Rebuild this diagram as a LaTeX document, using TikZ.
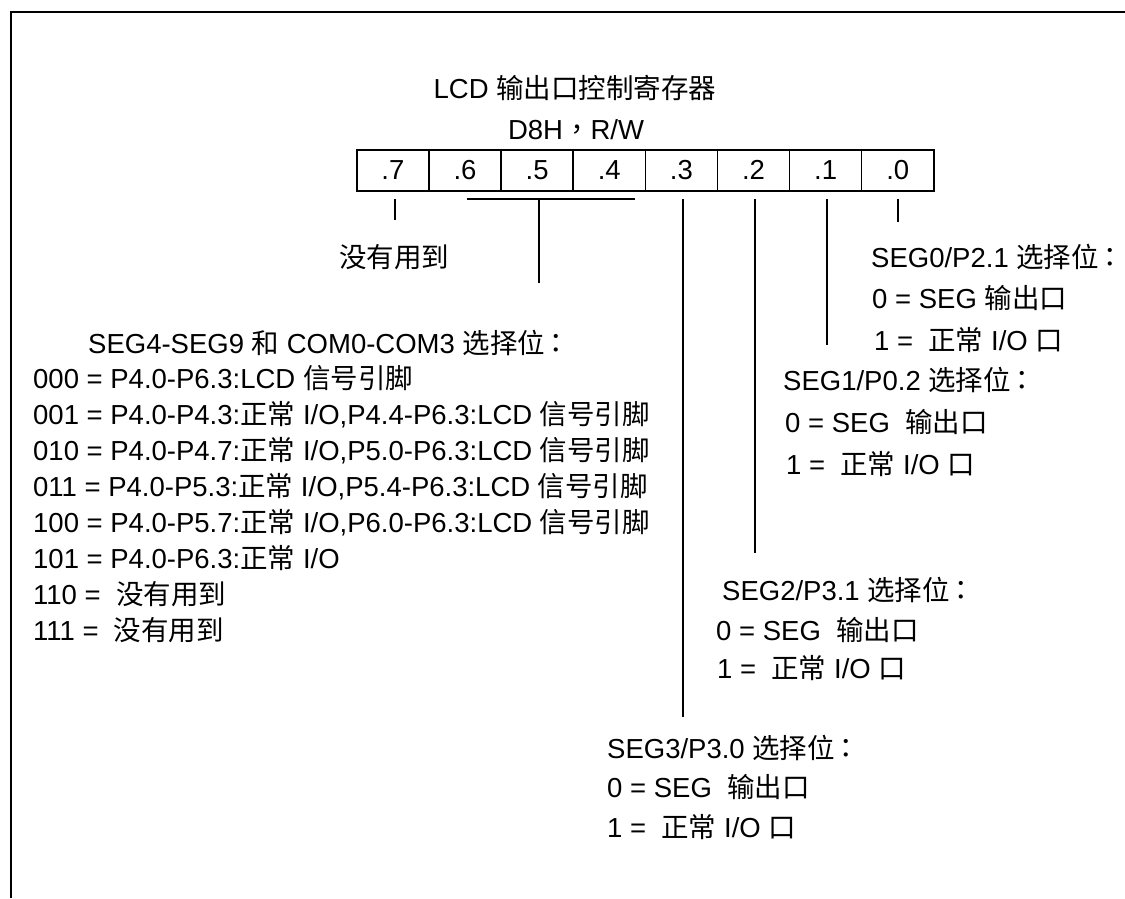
\documentclass[tikz,border=0pt]{standalone}
\usepackage{fontspec}
\setmainfont{Liberation Sans}
\newfontfamily\cjk{Noto Sans CJK SC}
\newfontfamily\cjkp{Noto Sans CJK TC}
\newcommand{\zh}[1]{{\cjk #1}}
\newcommand{\zcolon}{{\cjkp\hspace{-0.1em}\makebox[0.55em][l]{：}}}
\newcommand{\zcomma}{{\cjkp ，}}
\begin{document}
\begin{tikzpicture}[x=1pt,y=-1pt,
  every node/.style={inner sep=0pt,font=\fontsize{27.5}{33}\selectfont},
  cellbox/.style={draw,line width=1.6pt,minimum width=72.125pt,minimum height=41pt,anchor=north west},
  txt/.style={anchor=base west},
  lead/.style={line width=1.6pt}]
\useasboundingbox (0,0) rectangle (1125,898);
% frame
\coordinate (fbl) at (11,898);
\coordinate (ftl) at (11,12);
\coordinate (ftr) at (1125,12);
\draw[line width=2.2pt] (fbl) -- (ftl) -- (ftr);
% titles
\node[anchor=base] (title) at (575,98) {LCD \zh{输出口控制寄存器}};
\node[anchor=base] (addr) at (576,139) {D8H\zcomma R/W};
% register cells
\foreach \i/\lab in {0/.7,1/.6,2/.5,3/.4,4/.3,5/.2,6/.1,7/.0}{
  \node[cellbox] (c\i) at ({356+72.125*\i},149) {\lab};
}
% leads
\coordinate (t7a) at (395,199); \coordinate (t7b) at (395,220);
\draw[lead] (t7a) -- (t7b);
\coordinate (b1) at (467,199); \coordinate (b2) at (635,199);
\coordinate (b3) at (539,199); \coordinate (b4) at (539,283);
\draw[lead] (b1) -- (b2);
\draw[lead] (b3) -- (b4);
\coordinate (t3a) at (683,199); \coordinate (t3b) at (683,717);
\draw[lead] (t3a) -- (t3b);
\coordinate (t2a) at (755,199); \coordinate (t2b) at (755,553);
\draw[lead] (t2a) -- (t2b);
\coordinate (t1a) at (827,199); \coordinate (t1b) at (827,345);
\draw[lead] (t1a) -- (t1b);
\coordinate (t0a) at (898,199); \coordinate (t0b) at (898,222);
\draw[lead] (t0a) -- (t0b);
% bit 7
\node[anchor=base] (unused) at (394,267) {\zh{没有用到}};
% bits 6-4
\node[txt] (h64) at (88,353) {SEG4-SEG9 \zh{和} COM0-COM3 \zh{选择位}\zcolon};
\node[txt] (l0) at (33,388) {000 = P4.0-P6.3:LCD \zh{信号引脚}};
\node[txt] (l1) at (33,424) {001 = P4.0-P4.3:\zh{正常} I/O,P4.4-P6.3:LCD \zh{信号引脚}};
\node[txt] (l2) at (33,460) {010 = P4.0-P4.7:\zh{正常} I/O,P5.0-P6.3:LCD \zh{信号引脚}};
\node[txt] (l3) at (33,496) {011 = P4.0-P5.3:\zh{正常} I/O,P5.4-P6.3:LCD \zh{信号引脚}};
\node[txt] (l4) at (33,532) {100 = P4.0-P5.7:\zh{正常} I/O,P6.0-P6.3:LCD \zh{信号引脚}};
\node[txt] (l5) at (33,568) {101 = P4.0-P6.3:\zh{正常} I/O};
\node[txt] (l6) at (33,604) {110 =~~\zh{没有用到}};
\node[txt] (l7) at (33,640) {111 =~~\zh{没有用到}};
% bit 0
\node[txt] (h0) at (871,267) {SEG0/P2.1 \zh{选择位}\zcolon};
\node[txt] (a0) at (872,308) {0 = SEG \zh{输出口}};
\node[txt] (b0) at (874,350) {1 =~~\zh{正常} I/O \zh{口}};
% bit 1
\node[txt] (h1) at (783,390) {SEG1/P0.2 \zh{选择位}\zcolon};
\node[txt] (a1) at (785,432) {0 = SEG~~\zh{输出口}};
\node[txt] (b1t) at (786,474) {1 =~~\zh{正常} I/O \zh{口}};
% bit 2
\node[txt] (h2) at (722,600) {SEG2/P3.1 \zh{选择位}\zcolon};
\node[txt] (a2) at (716,640) {0 = SEG~~\zh{输出口}};
\node[txt] (b2t) at (717,678) {1 =~~\zh{正常} I/O \zh{口}};
% bit 3
\node[txt] (h3) at (607,758) {SEG3/P3.0 \zh{选择位}\zcolon};
\node[txt] (a3) at (607,797) {0 = SEG~~\zh{输出口}};
\node[txt] (b3t) at (607,837) {1 =~~\zh{正常} I/O \zh{口}};
\end{tikzpicture}
\end{document}
